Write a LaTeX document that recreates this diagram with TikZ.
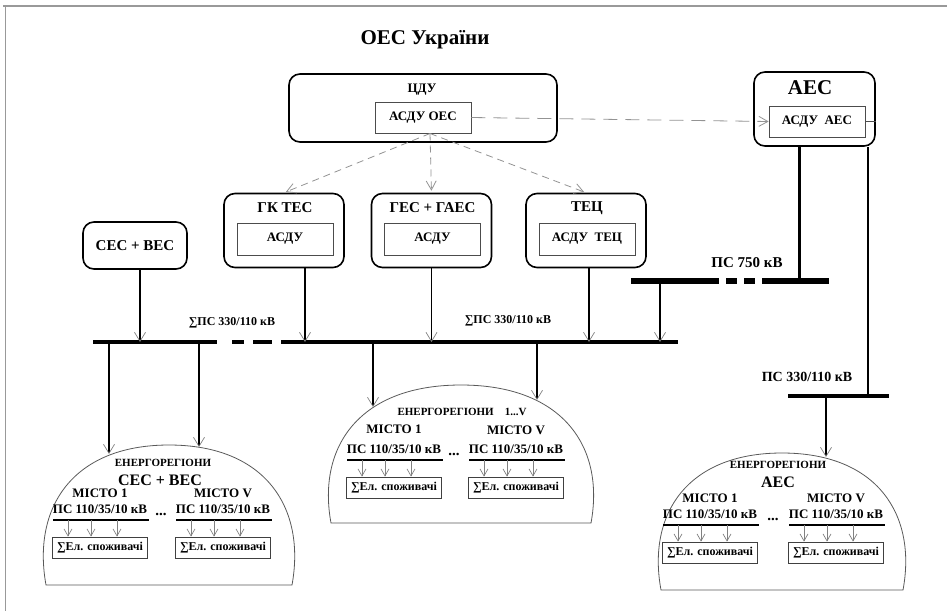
\documentclass[tikz,border=0pt]{standalone}
\usepackage{fontspec}
\setmainfont{Liberation Serif}
\usetikzlibrary{arrows.meta}
\newcommand{\fsz}[1]{\fontsize{#1}{#1}\selectfont\bfseries}

\begin{document}
\begin{tikzpicture}[x=1pt,y=-1pt]
    % --- Dimensions ---
    \def\BusM{342}   % main 330/110 kV bus
    \def\BusH{281}   % 750 kV bus
    \def\BusR{396}   % 330/110 kV bus of the AES

    % --- Styles ---
    \tikzset{
        station/.style={draw, line width=1.6pt, rounded corners=11pt, inner sep=0pt},
        asdu box/.style={draw=black!70, line width=0.7pt, inner sep=0pt, font=\fsz{13}},
        bus/.style={line width=4.5pt},
        feeder/.style={line width=1.6pt,
            -{Straight Barb[length=9pt,width=11pt,line width=0.7pt,color=gray]}},
        control/.style={gray!85, line width=0.8pt, dash pattern=on 7pt off 5pt,
            -{Straight Barb[length=9pt,width=10pt]}},
        dome line/.style={draw=black!65, line width=0.8pt},
        tap line/.style={gray, line width=0.7pt, -{Straight Barb[length=7pt,width=8pt]}},
        load box/.style={draw=black!75, line width=0.8pt, minimum width=95pt,
            minimum height=21pt, inner sep=0pt, font=\fsz{12}},
        title text/.style={font=\fsz{21}},
        head text/.style={font=\fsz{15}},
        small text/.style={font=\fsz{11}},
        label text/.style={font=\fsz{13}}
    }

    \useasboundingbox (0,0) rectangle (947,611);

    % page frame
    \draw[gray!80, line width=1.2pt] (3,6) -- (947,6);
    \draw[gray!80, line width=0.8pt] (5,6) -- (5,611);

    % =========================================================
    % 1. CONTROL CENTRES
    % =========================================================
    \node[title text] (title) at (425,40) {ОЕС України};

    \node[station, minimum width=268pt, minimum height=68pt] (cdu) at (423,108) {};
    \node[label text] (cduLbl) at (422,90) {ЦДУ};
    \node[asdu box, minimum width=96pt, minimum height=31pt] (asduOES) at (423,117.5) {АСДУ ОЕС};

    \node[station, minimum width=121pt, minimum height=74pt] (aes) at (814.5,109) {};
    \node[title text] (aesLbl) at (810,88) {АЕС};
    \node[asdu box, minimum width=96pt, minimum height=31pt] (asduAES) at (817,121.5) {АСДУ\ \ АЕС};
    \draw[black!70, line width=0.7pt] (asduAES.east) -- (asduAES.east -| aes.east);

    % =========================================================
    % 2. POWER STATIONS
    % =========================================================
    \node[station, head text, minimum width=104pt, minimum height=47pt] (ses) at (135,245.5) {СЕС + ВЕС};

    \foreach \name/\x/\ttl/\inner in {gktes/284/ГК ТЕС/АСДУ, ges/431.5/ГЕС + ГАЕС/АСДУ, tec/586/ТЕЦ/АСДУ\ \ ТЕЦ} {
        \node[station, minimum width=120pt, minimum height=74pt] (\name) at (\x,230.5) {};
        \node[head text] (\name Lbl) at (\x+1,208) {\ttl};
        \node[asdu box, minimum width=96pt, minimum height=32pt] (\name Asdu) at (\x+1,239) {\inner};
    }

    % dispatch links
    \coordinate (hub) at (430,133.5);
    \draw[control, shorten >=2pt] (hub) -- (gktes.north);
    \draw[control, shorten >=2pt] (hub) -- (ges.north);
    \draw[control, shorten >=2pt] (hub) -- (tec.north);
    \draw[control, dash pattern=on 14pt off 8pt] (asduOES.east) -- (asduAES.west);

    % =========================================================
    % 3. BUSES
    % =========================================================
    \coordinate (busM) at (0,\BusM);
    \coordinate (busH) at (0,\BusH);
    \coordinate (busR) at (0,\BusR);

    \draw[bus] (93,\BusM) -- (217,\BusM)
               (232,\BusM) -- (244,\BusM)
               (253,\BusM) -- (272,\BusM)
               (281,\BusM) -- (678,\BusM);
    \draw[bus, line width=5.5pt] (631,\BusH) -- (719,\BusH)
               (726,\BusH) -- (737,\BusH)
               (744,\BusH) -- (755,\BusH)
               (762,\BusH) -- (829,\BusH);
    \draw[bus] (788,\BusR) -- (889,\BusR);

    \node[font=\fsz{12}] (sumL) at (232,323) {∑ПС 330/110 кВ};
    \node[font=\fsz{12}] (sumR) at (508,321) {∑ПС 330/110 кВ};
    \node[head text] (ps750) at (747,263) {ПС 750 кВ};
    \node[font=\fsz{14}] (ps330) at (807,377) {ПС 330/110 кВ};

    % feeders into the main bus
    \draw[feeder] ([xshift=5pt]ses.south) -- ([xshift=5pt]ses.south |- busM);
    \draw[feeder] ([xshift=21pt]gktes.south) -- ([xshift=21pt]gktes.south |- busM);
    \draw[feeder] (ges.south) -- (ges.south |- busM);
    \draw[feeder] ([xshift=3pt]tec.south) -- ([xshift=3pt]tec.south |- busM);
    \coordinate (tie) at (660,\BusH);
    \draw[feeder, line width=2.6pt] (tie) -- (tie |- busM);

    % AES outputs
    \draw[line width=3pt] ([xshift=-15pt]aes.south) -- ([xshift=-15pt]aes.south |- busH);
    \draw[line width=2pt] ([xshift=-8pt]aes.south east) -- ([xshift=-8pt]aes.south east |- busR);

    % =========================================================
    % 4. ENERGY REGIONS
    % =========================================================
    \foreach \xc/\yt/\rx/\yb in {169/445/129/585, 461/385/136/523, 782/453/127/590} {
        \draw[dome line] (\xc-\rx+6,\yb)
            .. controls ({\xc-\rx-8},{\yb-0.55*(\yb-\yt)}) and ({\xc-0.75*\rx},\yt) .. (\xc,\yt)
            .. controls ({\xc+0.75*\rx},\yt) and ({\xc+\rx+8},{\yb-0.55*(\yb-\yt)}) .. (\xc+\rx-6,\yb)
            -- cycle;
    }

    % supply into the regions
    \coordinate (dA) at (109,454);
    \coordinate (dB) at (199,447);
    \coordinate (dC) at (373,407);
    \coordinate (dD) at (537,400);
    \coordinate (dE) at (826,457);
    \draw[feeder] (dA |- busM) -- (dA);
    \draw[feeder] (dB |- busM) -- (dB);
    \draw[feeder] (dC |- busM) -- (dC);
    \draw[feeder] (dD |- busM) -- (dD);
    \draw[feeder] (dE |- busR) -- (dE);

    \node[small text] (regL) at (163,463) {ЕНЕРГОРЕГІОНИ};
    \node[font=\fsz{16}] (regLname) at (160,480) {СЕС + ВЕС};
    \node[small text] (regM) at (462,412) {ЕНЕРГОРЕГІОНИ\quad 1...V};
    \node[small text] (regR) at (778,465) {ЕНЕРГОРЕГІОНИ};
    \node[font=\fsz{16}] (regRname) at (778,482) {АЕС};

    % cities
    \foreach \cx/\cy/\cn/\dy [count=\i] in {53/520/1/27, 176/520/V/27, 347/460/1/31,
                                            469/460/V/30, 663/525/1/27, 789/525/V/27} {
        \draw[line width=2pt] (\cx,\cy) -- (\cx+96,\cy);
        \node[label text] (city\i) at (\cx+47,\cy-\dy) {МІСТО \cn};
        \node[label text] (ps\i) at (\cx+47,\cy-11) {ПС 110/35/10 кВ};
        \node[load box] (load\i) at (\cx+47,\cy+27.5) {∑Ел. споживачі};
        \foreach \dx in {15,38,64} {
            \coordinate (tap) at (\cx+\dx,\cy);
            \draw[tap line] (tap) -- (tap |- load\i.north);
        }
    }

    \node[font=\fsz{15}] (dotsL) at (161,514) {...};
    \node[font=\fsz{15}] (dotsM) at (454,454) {...};
    \node[font=\fsz{15}] (dotsR) at (773,519) {...};

\end{tikzpicture}
\end{document}
